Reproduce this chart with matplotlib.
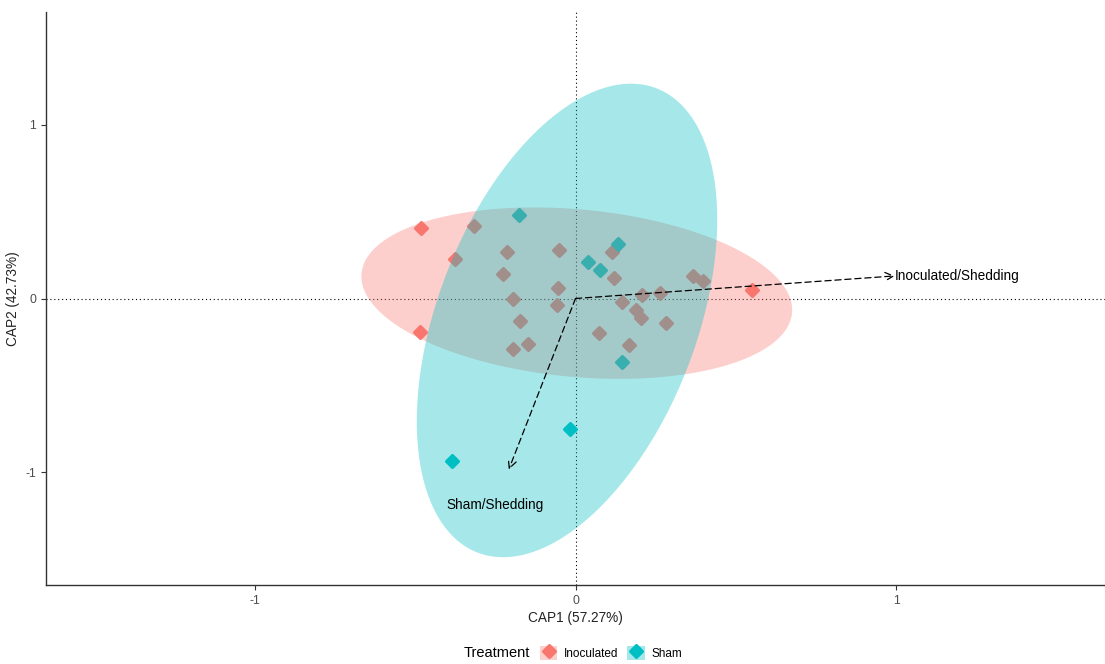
import numpy as np
import matplotlib
matplotlib.use("Agg")
import matplotlib.pyplot as plt
from matplotlib.patches import Polygon, Patch, FancyArrowPatch
from matplotlib.lines import Line2D
from matplotlib.markers import MarkerStyle
from matplotlib.legend_handler import HandlerTuple

plt.rcParams['font.family'] = ['Liberation Sans', 'DejaVu Sans']

# ---- data ----
inoc_x = [-0.480, -0.375, -0.485, 0.549, -0.315, -0.215, -0.051, -0.225, -0.194,
          -0.056, -0.059, -0.172, -0.148, -0.194, 0.113, 0.120, 0.144, 0.206,
          0.262, 0.190, 0.205, 0.283, 0.072, 0.166, 0.365, 0.397]
inoc_y = [0.406, 0.226, -0.195, 0.051, 0.418, 0.270, 0.281, 0.141, -0.001,
          0.061, -0.039, -0.130, -0.261, -0.293, 0.268, 0.118, -0.022, 0.020,
          0.033, -0.065, -0.114, -0.143, -0.197, -0.266, 0.130, 0.103]
sham_x = [-0.175, 0.131, 0.040, 0.076, 0.144, -0.016, -0.385]
sham_y = [0.483, 0.312, 0.210, 0.163, -0.366, -0.754, -0.933]

groups = ["Inoculated", "Sham"]
colors = {"Inoculated": "#F8766D", "Sham": "#00BFC4"}

arrow_labels = ["Inoculated/Shedding", "Sham/Shedding"]
arrow_x = [0.995, -0.208]
arrow_y = [0.130, -0.985]
label_x = [1.190, -0.250]
label_y = [0.130, -1.190]

x_title = "CAP1 (57.27%)"
y_title = "CAP2 (42.73%)"
ticks = [-1, 0, 1]
lim = 1.65

# ---- figure ----
fig = plt.figure(figsize=(11.05, 6.64), dpi=100)
ax = fig.add_axes([46 / 1105, 79 / 664, (1105 - 46) / 1105, (585 - 12) / 664])
ax.set_xlim(-lim, lim)
ax.set_ylim(-lim, lim)

ax.axhline(0, color="black", lw=0.8, ls=(0, (1, 2.5)), zorder=1)
ax.axvline(0, color="black", lw=0.8, ls=(0, (1, 2.5)), zorder=1)

data = {"Inoculated": (np.array(inoc_x), np.array(inoc_y)),
        "Sham": (np.array(sham_x), np.array(sham_y))}

mk = MarkerStyle("D", joinstyle="round")
MS = 6.0
MEW = 2.2

for g in groups:
    x, y = data[g]
    ax.plot(x, y, ls="none", marker=mk, ms=MS, mfc=colors[g], mec=colors[g],
            mew=MEW, zorder=2)

# 95% normal-theory ellipses (chi-square scale)
scale = np.sqrt(-2 * np.log(0.05))
t = np.linspace(0, 2 * np.pi, 200)
for g in groups:
    x, y = data[g]
    cov = np.cov(np.vstack([x, y]))
    L = np.linalg.cholesky(cov)
    circ = np.vstack([np.cos(t), np.sin(t)])
    pts = (L @ circ) * scale + np.array([[x.mean()], [y.mean()]])
    ax.add_patch(Polygon(pts.T, closed=True, facecolor=colors[g], alpha=0.35,
                         edgecolor="none", zorder=3))

for lab, ax_, ay_, lx, ly in zip(arrow_labels, arrow_x, arrow_y, label_x, label_y):
    ar = FancyArrowPatch((0, 0), (ax_, ay_), arrowstyle="->,head_length=6,head_width=3",
                         ls=(0, (5, 3)), lw=0.9, color="black", zorder=4,
                         shrinkA=0, shrinkB=0)
    ax.add_patch(ar)
    ax.text(lx, ly, lab, ha="center", va="center", fontsize=9.8,
            color="black", zorder=5)

for s in ["top", "right"]:
    ax.spines[s].set_visible(False)
for s in ["left", "bottom"]:
    ax.spines[s].set_color("#333333")
    ax.spines[s].set_linewidth(1.0)
ax.set_xticks(ticks)
ax.set_yticks(ticks)
ax.set_xticklabels([str(v) for v in ticks])
ax.set_yticklabels([str(v) for v in ticks])
ax.tick_params(colors="#333333", labelcolor="#4D4D4D", labelsize=8.8, length=3.5, width=0.8)
ax.set_xlabel(x_title, fontsize=9.8, color="#222222", labelpad=3)
ax.set_ylabel(y_title, fontsize=9.8, color="#222222", labelpad=4)

# legend
handles = []
for g in groups:
    bg = Patch(facecolor=colors[g], alpha=0.35, edgecolor="none")
    pt = Line2D([], [], ls="none", marker=mk, ms=MS, mfc=colors[g], mec=colors[g], mew=MEW)
    handles.append((bg, pt))
fig.text(497 / 1105, 1 - 653 / 664, "Treatment", ha="center", va="center", fontsize=10.5)
fig.legend(handles, groups, loc="center left", bbox_to_anchor=(540 / 1105, 1 - 653 / 664),
           ncol=2, frameon=False, fontsize=8.5,
           handler_map={tuple: HandlerTuple(ndivide=1, pad=0)},
           handlelength=1.45, handleheight=1.45, handletextpad=0.6, columnspacing=0.75,
           borderpad=0, borderaxespad=0)

fig.savefig("out.png", dpi=100)
